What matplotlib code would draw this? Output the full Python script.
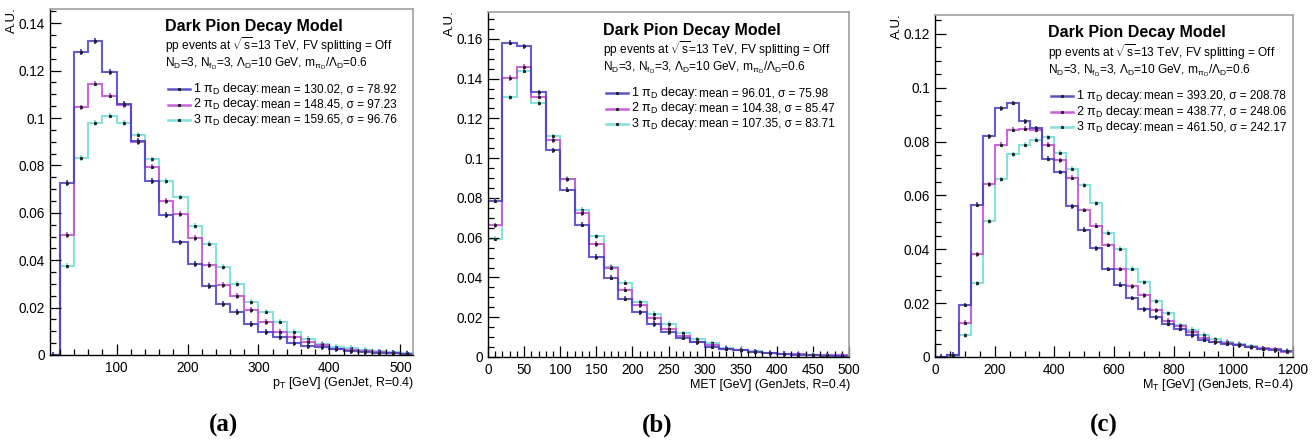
import matplotlib
matplotlib.use("Agg")
import matplotlib.pyplot as plt
from matplotlib.lines import Line2D
from matplotlib.ticker import MultipleLocator, FuncFormatter
import numpy as np

plt.rcParams["font.family"] = ["Liberation Sans", "DejaVu Sans"]
plt.rcParams["mathtext.fontset"] = "custom"
plt.rcParams["mathtext.rm"] = "Liberation Sans"
plt.rcParams["mathtext.it"] = "Liberation Sans:italic"

# ---- data (A.U. per bin) ----
# (a) jet pT, 20 GeV bins from 0 to 520 (first bin empty)
pt_edges = np.arange(0, 540, 20)
pt_1pi = [0.0, 0.0725, 0.128, 0.1325, 0.1195, 0.106, 0.0905, 0.0735, 0.059, 0.0475, 0.0385, 0.029,
          0.0215, 0.018, 0.013, 0.0096, 0.0077, 0.0052, 0.0039, 0.0032, 0.0024, 0.0018, 0.0013,
          0.001, 0.0007, 0.0005]
pt_2pi = [0.0, 0.0505, 0.1045, 0.1145, 0.1095, 0.1055, 0.090, 0.0795, 0.065, 0.0595, 0.0495, 0.038,
          0.0295, 0.025, 0.019, 0.0138, 0.0096, 0.0077, 0.0056, 0.0041, 0.0027, 0.002, 0.0015,
          0.0012, 0.0009, 0.0006]
pt_3pi = [0.0, 0.0375, 0.083, 0.098, 0.101, 0.098, 0.093, 0.0825, 0.0735, 0.0665, 0.0545, 0.047,
          0.037, 0.030, 0.0225, 0.0183, 0.0141, 0.0099, 0.0069, 0.0045, 0.0035, 0.0031, 0.0021,
          0.0015, 0.0011, 0.0008]

# (b) MET, 20 GeV bins from 0 to 500
met_edges = np.arange(0, 520, 20)
met_1pi = [0.0785, 0.158, 0.1562, 0.1332, 0.104, 0.0842, 0.0666, 0.0503, 0.0398, 0.0293, 0.0224,
           0.0166, 0.0124, 0.0097, 0.0073, 0.0051, 0.0042, 0.0034, 0.0027, 0.0019, 0.0015, 0.0012,
           0.0009, 0.0007, 0.0006]
met_2pi = [0.0663, 0.1403, 0.1458, 0.131, 0.109, 0.0893, 0.0724, 0.0568, 0.0449, 0.0339, 0.0259,
           0.0195, 0.0141, 0.0105, 0.0073, 0.0059, 0.0042, 0.0034, 0.0026, 0.002, 0.0016, 0.0013,
           0.0009, 0.0008, 0.0008]
met_3pi = [0.0595, 0.1307, 0.144, 0.1277, 0.111, 0.0897, 0.074, 0.0607, 0.0454, 0.0373, 0.0276,
           0.0217, 0.0166, 0.0119, 0.009, 0.0068, 0.0047, 0.0036, 0.0028, 0.0021, 0.0016, 0.0013,
           0.001, 0.0008, 0.0006]

# (c) transverse mass, 40 GeV bins from 0 to 1200
mt_edges = np.arange(0, 1240, 40)
mt_1pi = [0.0001, 0.0008, 0.0193, 0.0565, 0.082, 0.0924, 0.0943, 0.0875, 0.085, 0.0736, 0.0687,
          0.0559, 0.0472, 0.0404, 0.0327, 0.0269, 0.0219, 0.0177, 0.0148, 0.0123, 0.0104, 0.008,
          0.0064, 0.0054, 0.005, 0.0043, 0.0037, 0.003, 0.0025, 0.0021]
mt_2pi = [0.0001, 0.0006, 0.0127, 0.0382, 0.0642, 0.0789, 0.0844, 0.0847, 0.0843, 0.0788, 0.073,
          0.0666, 0.0546, 0.0488, 0.0416, 0.0327, 0.0263, 0.0229, 0.0173, 0.0134, 0.0115, 0.0092,
          0.007, 0.0057, 0.0053, 0.0046, 0.0036, 0.0033, 0.0029, 0.002]
mt_3pi = [0.0001, 0.0004, 0.008, 0.0273, 0.0504, 0.066, 0.0752, 0.0789, 0.0807, 0.0816, 0.0758,
          0.0699, 0.0637, 0.0571, 0.0461, 0.0402, 0.0328, 0.0278, 0.0207, 0.0163, 0.0118, 0.0102,
          0.0082, 0.0066, 0.0057, 0.005, 0.0041, 0.003, 0.0029, 0.0023]

labels = ["1 π$_\\mathregular{D}$ decay:", "2 π$_\\mathregular{D}$ decay:", "3 π$_\\mathregular{D}$ decay:"]
pt_stats = ["mean = 130.02, σ = 78.92", "mean = 148.45, σ = 97.23", "mean = 159.65, σ = 96.76"]
met_stats = ["mean = 96.01, σ = 75.98", "mean = 104.38, σ = 85.47", "mean = 107.35, σ = 83.71"]
mt_stats = ["mean = 393.20, σ = 208.78", "mean = 438.77, σ = 248.06", "mean = 461.50, σ = 242.17"]

colors = ["#4a40c2", "#c24fd6", "#72ddd8"]

W, H = 1315, 442
fig = plt.figure(figsize=(W / 100, H / 100), dpi=100)


def fx(px):
    return px / W


def fy(py):
    return 1 - py / H


def panel(box, edges, series, xlim, ylim, xmaj, xmin, err, xlabel, stats, txt, letter, letter_x):
    l, t, r, b = box
    ax = fig.add_axes([fx(l), fy(b), fx(r) - fx(l), fy(t) - fy(b)])
    centers = 0.5 * (edges[:-1] + edges[1:])
    for vals, c in reversed(list(zip(series, colors))):
        ax.stairs(vals, edges, color=c, lw=1.5, alpha=0.85, baseline=None)
        ax.errorbar(centers, vals, yerr=err, fmt="none", ecolor=c, elinewidth=1.4, alpha=0.9)
        ax.plot(centers, vals, ls="none", marker="s", ms=1.2, color="#222222")
    ax.set_xlim(*xlim)
    ax.set_ylim(*ylim)
    ax.xaxis.set_major_locator(MultipleLocator(xmaj))
    ax.xaxis.set_minor_locator(MultipleLocator(xmin))
    ax.yaxis.set_major_locator(MultipleLocator(0.02))
    ax.yaxis.set_minor_locator(MultipleLocator(0.005))
    ax.yaxis.set_major_formatter(FuncFormatter(lambda v, p: "%g" % round(v, 4)))
    ax.tick_params(which="both", direction="in", top=False, right=False, labelsize=9.8, width=0.9)
    ax.tick_params(which="major", length=8)
    ax.tick_params(which="minor", length=4)
    ax.tick_params(axis="x", pad=4)
    for s in ("top", "right"):
        ax.spines[s].set_color("#a0a0a0")
        ax.spines[s].set_linewidth(1.2)
    for s in ("left", "bottom"):
        ax.spines[s].set_linewidth(1.0)

    # axis titles
    fig.text(fx(l - 38), fy(t - 2), "A.U.", rotation=90, ha="center", va="top", fontsize=9.5)
    fig.text(fx(r + 1), fy(b + 28), xlabel, ha="right", va="center", fontsize=9)
    fig.text(fx(letter_x), fy(425), letter, ha="center", va="center",
             fontsize=18, fontweight="bold", family="Liberation Serif")

    # header text
    tx, ty = txt
    fig.text(fx(tx), fy(ty), "Dark Pion Decay Model", ha="left", va="center",
             fontsize=11.5, fontweight="bold")
    fig.text(fx(tx), fy(ty + 19), "pp events at $\\mathregular{\\sqrt{s}}$=13 TeV, FV splitting = Off",
             ha="left", va="center", fontsize=8.6)
    fig.text(fx(tx), fy(ty + 38),
             "N$_\\mathregular{D}$=3, N$_{\\mathregular{f_D}}$=3, Λ$_\\mathregular{D}$=10 GeV, "
             "m$_{\\mathregular{π_D}}$/Λ$_\\mathregular{D}$=0.6",
             ha="left", va="center", fontsize=8.6)
    for i, (lab, st, c) in enumerate(zip(labels, stats, colors)):
        yy = ty + 63 + i * 15.5
        fig.add_artist(Line2D([fx(tx + 3), fx(tx + 25)], [fy(yy), fy(yy)], color=c, lw=1.8,
                              alpha=0.9, transform=fig.transFigure))
        fig.add_artist(Line2D([fx(tx + 14)], [fy(yy)], marker="s", ms=1.2, color="#222222",
                              transform=fig.transFigure))
        fig.text(fx(tx + 28), fy(yy), lab, ha="left", va="center", fontsize=9)
        fig.text(fx(tx + 96), fy(yy), st, ha="left", va="center", fontsize=8.5)
    return ax


panel((50, 9, 413, 355), pt_edges, [pt_1pi, pt_2pi, pt_3pi], (6, 518), (0, 0.146), 100, 20, 0.0012,
      "p$_\\mathregular{T}$ [GeV] (GenJet, R=0.4)", pt_stats, (165, 26), "(a)", 224)
panel((488, 12, 849, 357), met_edges, [met_1pi, met_2pi, met_3pi], (0, 500), (0, 0.1735), 50, 10, 0.0013,
      "MET [GeV] (GenJets, R=0.4)", met_stats, (603, 30), "(b)", 657)
panel((935, 15, 1293, 357), mt_edges, [mt_1pi, mt_2pi, mt_3pi], (0, 1200), (0, 0.127), 200, 50, 0.0009,
      "M$_\\mathregular{T}$ [GeV] (GenJets, R=0.4)", mt_stats, (1048, 33), "(c)", 1104)

fig.savefig("out.png", dpi=100)
